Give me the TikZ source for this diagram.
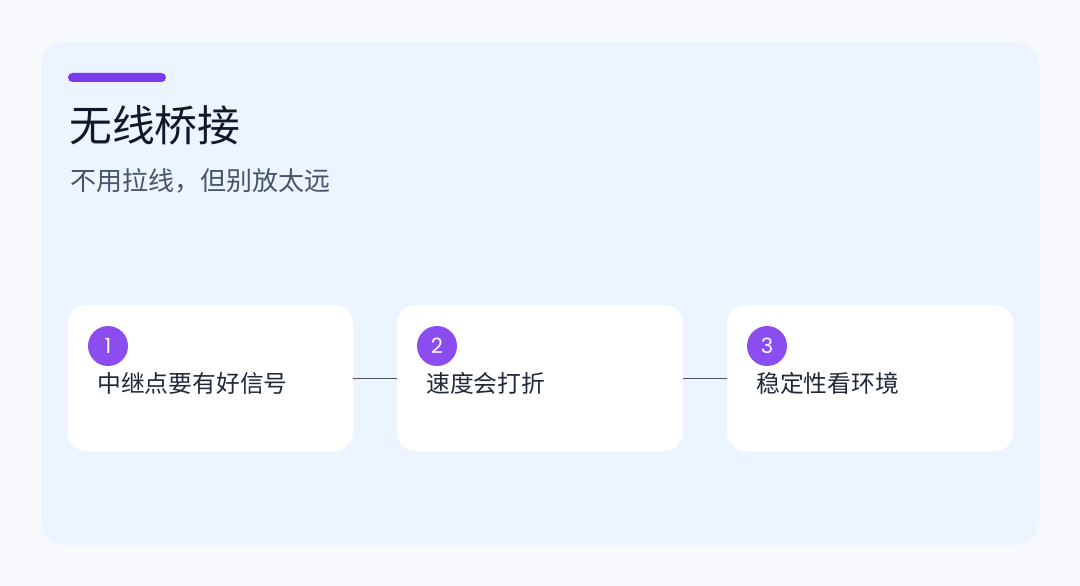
\documentclass[tikz,border=0pt]{standalone}
\usepackage{fontspec}
\setmainfont{Noto Sans CJK SC}
\newfontfamily\numfont{Poppins}
\definecolor{pagebg}{HTML}{F7F9FC}
\definecolor{panelbg}{HTML}{EBF4FF}
\definecolor{accent}{HTML}{7C3AED}
\definecolor{badge}{HTML}{8B4CF0}
\definecolor{titlecol}{HTML}{111827}
\definecolor{subcol}{HTML}{475569}
\definecolor{textcol}{HTML}{1F2937}
\definecolor{linecol}{HTML}{4B5563}
\begin{document}
\begin{tikzpicture}[x=1pt,y=-1pt,
  card/.style={fill=white,rounded corners=18pt},
  badgenode/.style={circle,fill=badge,minimum size=40pt,inner sep=0pt,text=white,font=\numfont\fontsize{21}{21}\selectfont},
  cardtext/.style={anchor=base west,inner sep=0pt,text=textcol,font=\fontsize{23.8}{23.8}\selectfont},
  link/.style={draw=linecol,line width=0.8pt}]
\fill[pagebg] (0,0) rectangle (1080,586);
\useasboundingbox (0,0) rectangle (1080,586);
\fill[panelbg,rounded corners=22pt] (41,42) rectangle (1039,545);
\fill[accent,rounded corners=4.5pt] (68,73) rectangle (166,82);
\node[anchor=base west,inner sep=0pt,text=titlecol,font=\fontsize{42.8}{42.8}\selectfont] (title) at (69,142) {无线桥接};
\node[anchor=base west,inner sep=0pt,text=subcol,font=\fontsize{26}{26}\selectfont] (subtitle) at (70,190) {不用拉线，但别放太远};
% cards
\path[card] (68,305) rectangle (353,451);
\path[card] (397,305) rectangle (683,451);
\path[card] (727,305) rectangle (1013,451);
\coordinate (c1r) at (353,378);
\coordinate (c2l) at (397,378);
\coordinate (c2r) at (683,378);
\coordinate (c3l) at (727,378);
\node[badgenode] (b1) at (108,346) {1};
\node[badgenode] (b2) at (437,346) {2};
\node[badgenode] (b3) at (767,346) {3};
\node[cardtext] (t1) at (97,392) {中继点要有好信号};
\node[cardtext] (t2) at (426,392) {速度会打折};
\node[cardtext] (t3) at (756,392) {稳定性看环境};
\draw[link] (c1r) -- (c2l);
\draw[link] (c2r) -- (c3l);
\end{tikzpicture}
\end{document}
